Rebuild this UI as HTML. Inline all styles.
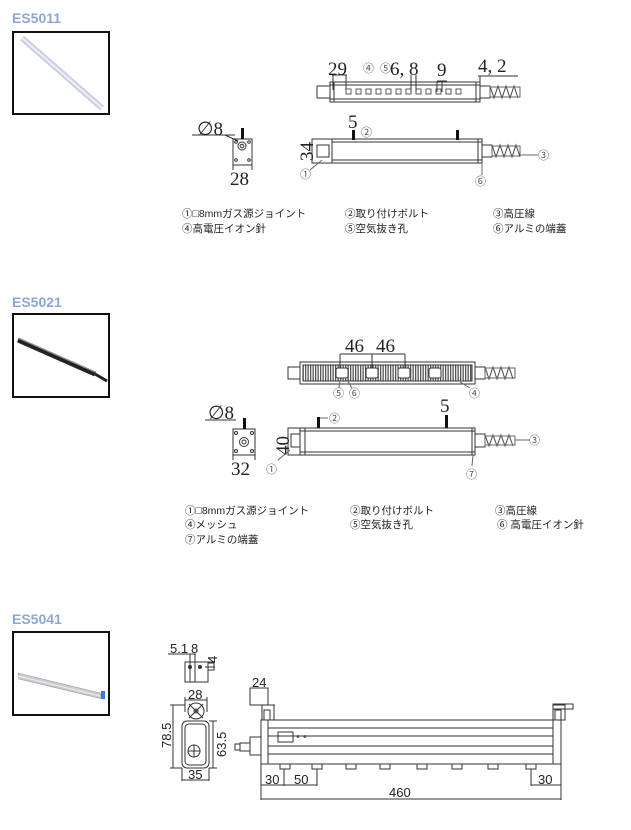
<!DOCTYPE html>
<html><head><meta charset="utf-8"><style>
html,body{margin:0;padding:0;background:#fff;}
svg{display:block;}
.t{font-family:"Liberation Sans","Noto Sans CJK JP",sans-serif;font-weight:bold;fill:#8ea6d6;font-size:14px;}
.lg{font-family:"Liberation Sans","Noto Sans CJK JP",sans-serif;font-size:10.5px;fill:#222;}
.d{font-family:"Liberation Serif",serif;font-size:19px;fill:#222;}
.ds{font-family:"Liberation Sans",sans-serif;font-size:13px;fill:#222;}
.c{font-family:"Liberation Sans","Noto Sans CJK JP",sans-serif;font-size:11px;fill:#555;}
</style></head><body>
<svg width="631" height="830" viewBox="0 0 631 830" xmlns="http://www.w3.org/2000/svg" stroke-linecap="butt">
<!-- ===== Section 1 ===== -->
<text class="t" x="12" y="23">ES5011</text>
<rect x="13" y="32" width="96" height="82" fill="#fff" stroke="#111" stroke-width="2"/>
<line x1="22" y1="38" x2="102" y2="108" stroke="#c9cfe0" stroke-width="6"/>
<line x1="22" y1="38" x2="102" y2="108" stroke="#eef0f7" stroke-width="2"/>

<!-- top view -->
<g stroke="#333" fill="none" stroke-width="1">
<rect x="317" y="86" width="13" height="12"/>
<rect x="330" y="82" width="150" height="20"/>
<line x1="330" y1="85" x2="480" y2="85"/><line x1="330" y1="99" x2="480" y2="99"/>
<line x1="334" y1="82" x2="334" y2="102"/><line x1="476" y1="82" x2="476" y2="102"/>
<rect x="480" y="86" width="10" height="12"/>
<path d="M490 86 l4 12 l4 -12 l4 12 l4 -12 l4 12 l4 -12 l4 12" stroke="#444"/>
<rect x="490" y="87" width="30" height="10" stroke="#666"/>
<line x1="332" y1="75" x2="347" y2="75"/><line x1="346" y1="75" x2="346" y2="90"/><line x1="333" y1="75" x2="333" y2="90"/>
<line x1="411" y1="75" x2="411" y2="92"/><line x1="416" y1="75" x2="416" y2="92"/>
<line x1="437" y1="81" x2="437" y2="92"/><line x1="442" y1="81" x2="442" y2="92"/><line x1="437" y1="81" x2="447" y2="81"/>
<line x1="478" y1="76" x2="518" y2="76"/><line x1="480" y1="76" x2="480" y2="84"/>
</g>
<g fill="none" stroke="#333" stroke-width="0.8">
<rect x="346" y="89" width="5" height="5"/><rect x="356" y="89" width="5" height="5"/><rect x="366" y="89" width="5" height="5"/><rect x="376" y="89" width="5" height="5"/><rect x="386" y="89" width="5" height="5"/><rect x="396" y="89" width="5" height="5"/><rect x="406" y="89" width="5" height="5"/><rect x="416" y="89" width="5" height="5"/><rect x="426" y="89" width="5" height="5"/><rect x="436" y="89" width="5" height="5"/><rect x="446" y="89" width="5" height="5"/><rect x="456" y="89" width="5" height="5"/>
</g>
<text class="d" x="328" y="75">29</text>
<text class="c" x="363" y="72">④</text>
<text class="c" x="380" y="72">⑤</text>
<text class="d" x="390" y="75">6, 8</text>
<text class="d" x="437" y="76">9</text>
<text class="d" x="478" y="72">4, 2</text>

<!-- side view -->
<g stroke="#333" fill="none" stroke-width="1">
<rect x="312" y="139" width="20" height="24"/>
<rect x="317" y="145" width="12" height="12"/>
<rect x="332" y="139" width="150" height="24"/>
<line x1="332" y1="142" x2="482" y2="142"/><line x1="332" y1="160" x2="482" y2="160"/>
<line x1="478" y1="139" x2="478" y2="163"/>
<rect x="482" y="145" width="10" height="12"/>
<path d="M492 145 l4 12 l4 -12 l4 12 l4 -12 l4 12 l4 -12 l4 12" stroke="#444"/>
<rect x="492" y="146" width="28" height="10" stroke="#666"/>
<line x1="520" y1="155" x2="538" y2="155" stroke="#666"/>
<line x1="322" y1="160" x2="310" y2="170" stroke="#666"/>
<line x1="482" y1="163" x2="482" y2="175" stroke="#666"/>
</g>
<rect x="352" y="130" width="3" height="10" fill="#111"/>
<rect x="456" y="130" width="3" height="10" fill="#111"/>
<text class="d" x="348" y="128">5</text>
<text class="c" x="361" y="136">②</text>
<text class="c" x="538" y="159">③</text>
<text class="c" x="300" y="178">①</text>
<text class="c" x="475" y="185">⑥</text>
<text class="d" transform="translate(313,161) rotate(-90)" x="0" y="0">34</text>

<!-- end view -->
<g stroke="#333" fill="none" stroke-width="1">
<line x1="192" y1="135" x2="235" y2="135"/><line x1="225" y1="135" x2="238" y2="141"/>
<rect x="233" y="139" width="19" height="26"/>
<circle cx="242" cy="146" r="4"/><circle cx="242" cy="146" r="1.8"/>
<circle cx="236" cy="142" r="1.3"/><circle cx="249" cy="142" r="1.3"/><circle cx="236" cy="160" r="1.3"/><circle cx="249" cy="160" r="1.3"/>
<line x1="233" y1="165" x2="233" y2="170"/><line x1="252" y1="165" x2="252" y2="170"/>
</g>
<rect x="241" y="128" width="3" height="11" fill="#111"/>
<text class="d" x="197" y="135">∅8</text>
<text class="d" x="230" y="185">28</text>

<text class="lg" x="182" y="217">①□8mmガス源ジョイント</text>
<text class="lg" x="345" y="217">②取り付けボルト</text>
<text class="lg" x="493" y="217">③高圧線</text>
<text class="lg" x="182" y="232">④高電圧イオン針</text>
<text class="lg" x="345" y="232">⑤空気抜き孔</text>
<text class="lg" x="493" y="232">⑥アルミの端蓋</text>

<!-- ===== Section 2 ===== -->
<text class="t" x="12" y="307">ES5021</text>
<rect x="13" y="314" width="96" height="83" fill="#fff" stroke="#111" stroke-width="2"/>
<line x1="18" y1="340" x2="95" y2="374" stroke="#222" stroke-width="5"/>
<line x1="18" y1="338" x2="95" y2="372" stroke="#999" stroke-width="1"/>
<line x1="95" y1="374" x2="107" y2="381" stroke="#222" stroke-width="3"/>

<g stroke="#333" fill="none" stroke-width="1">
<rect x="288" y="367" width="12" height="12"/>
<rect x="300" y="362" width="175" height="22"/>
<rect x="303" y="365" width="169" height="16" fill="url(#mesh)"/>
<rect x="475" y="367" width="10" height="12"/>
<path d="M485 367 l4 12 l4 -12 l4 12 l4 -12 l4 12 l4 -12 l4 12" stroke="#444"/>
<rect x="485" y="368" width="30" height="10" stroke="#666"/>
<line x1="340" y1="354" x2="405" y2="354"/><line x1="340" y1="354" x2="340" y2="372"/><line x1="372" y1="354" x2="372" y2="372"/><line x1="405" y1="354" x2="405" y2="372"/>
<line x1="340" y1="380" x2="339" y2="388" stroke="#666"/><line x1="347" y1="380" x2="352" y2="388" stroke="#666"/><line x1="460" y1="382" x2="470" y2="388" stroke="#666"/>
</g>
<defs><pattern id="mesh" width="2.5" height="4" patternUnits="userSpaceOnUse"><rect width="1.3" height="4" fill="#555"/></pattern></defs>
<g fill="#fff" stroke="#333" stroke-width="1">
<rect x="336" y="368" width="12" height="10" rx="2"/><rect x="366" y="368" width="12" height="10" rx="2"/><rect x="398" y="368" width="12" height="10" rx="2"/><rect x="429" y="368" width="12" height="10" rx="2"/>
</g>
<text class="d" x="345" y="352">46</text>
<text class="d" x="376" y="352">46</text>
<text class="c" x="333" y="397">⑤</text>
<text class="c" x="349" y="397">⑥</text>
<text class="c" x="469" y="397">④</text>

<g stroke="#333" fill="none" stroke-width="1">
<rect x="288" y="428" width="12" height="27"/>
<rect x="291" y="434" width="9" height="13"/>
<rect x="300" y="428" width="175" height="27"/>
<line x1="300" y1="431" x2="475" y2="431"/><line x1="300" y1="452" x2="475" y2="452"/>
<line x1="305" y1="428" x2="305" y2="455"/><line x1="472" y1="428" x2="472" y2="455"/>
<rect x="475" y="434" width="10" height="13"/>
<path d="M485 435 l4 11 l4 -11 l4 11 l4 -11 l4 11 l4 -11 l4 11" stroke="#444"/>
<rect x="485" y="436" width="30" height="9" stroke="#666"/>
<line x1="515" y1="440" x2="530" y2="440" stroke="#666"/>
<line x1="290" y1="450" x2="278" y2="460" stroke="#666"/>
<line x1="473" y1="455" x2="472" y2="466" stroke="#666"/>
<line x1="320" y1="418" x2="328" y2="418" stroke="#666"/>
</g>
<rect x="317" y="417" width="3" height="11" fill="#111"/>
<rect x="445" y="415" width="3" height="13" fill="#111"/>
<text class="d" x="440" y="412">5</text>
<text class="c" x="329" y="422">②</text>
<text class="c" x="529" y="444">③</text>
<text class="c" x="266" y="473">①</text>
<text class="c" x="466" y="478">⑦</text>
<text class="d" transform="translate(289,455) rotate(-90)">40</text>

<g stroke="#333" fill="none" stroke-width="1">
<line x1="205" y1="420" x2="236" y2="420"/>
<rect x="233" y="429" width="22" height="26"/>
<circle cx="244" cy="442" r="4.5"/><circle cx="244" cy="442" r="2"/>
<circle cx="236" cy="433" r="1.5"/><circle cx="252" cy="433" r="1.5"/><circle cx="236" cy="451" r="1.5"/><circle cx="252" cy="451" r="1.5"/>
<line x1="233" y1="455" x2="233" y2="460"/><line x1="255" y1="455" x2="255" y2="460"/>
</g>
<rect x="243" y="418" width="3" height="11" fill="#111"/>
<text class="d" x="208" y="419">∅8</text>
<text class="d" x="231" y="475">32</text>

<text class="lg" x="185" y="514">①□8mmガス源ジョイント</text>
<text class="lg" x="350" y="514">②取り付けボルト</text>
<text class="lg" x="495" y="514">③高圧線</text>
<text class="lg" x="185" y="528">④メッシュ</text>
<text class="lg" x="350" y="528">⑤空気抜き孔</text>
<text class="lg" x="497" y="528">⑥ 高電圧イオン針</text>
<text class="lg" x="185" y="543">⑦アルミの端蓋</text>

<!-- ===== Section 3 ===== -->
<text class="t" x="12" y="624">ES5041</text>
<rect x="13" y="632" width="96" height="83" fill="#fff" stroke="#111" stroke-width="2"/>
<polygon points="18,673 100,693 103,699 19,679" fill="#c9ccd2" stroke="#999" stroke-width="0.6"/>
<line x1="18" y1="676" x2="100" y2="696" stroke="#eee" stroke-width="1"/>
<rect x="101" y="691" width="4" height="8" fill="#3a7bd5"/>

<!-- small top -->
<g stroke="#333" fill="none" stroke-width="1">
<line x1="168" y1="654" x2="196" y2="654"/>
<line x1="190" y1="654" x2="190" y2="682"/><line x1="195" y1="654" x2="195" y2="682"/>
<rect x="185" y="662" width="23" height="20"/>
<line x1="205" y1="662" x2="215" y2="662"/><line x1="205" y1="667" x2="215" y2="667"/>
<rect x="208" y="663" width="6" height="7"/>
</g>
<circle cx="190" cy="667" r="2" fill="#333"/><circle cx="200" cy="667" r="2" fill="#333"/>
<text class="ds" x="170" y="653">5.1</text><text class="ds" x="191" y="653">8</text>
<text class="ds" transform="translate(217,663) rotate(-90)">4</text>

<!-- end view -->
<g stroke="#333" fill="none" stroke-width="1">
<line x1="185" y1="700" x2="207" y2="700"/><line x1="185" y1="697" x2="185" y2="712"/><line x1="207" y1="697" x2="207" y2="712"/>
<circle cx="196" cy="711" r="8"/><circle cx="196" cy="711" r="2"/>
<line x1="189" y1="704" x2="203" y2="718"/><line x1="203" y1="704" x2="189" y2="718"/>
<rect x="182" y="721" width="27" height="47" rx="5"/>
<rect x="185" y="724" width="21" height="41" rx="4"/>
<circle cx="194" cy="751" r="6"/><line x1="188" y1="751" x2="200" y2="751"/><line x1="194" y1="745" x2="194" y2="757"/>
<line x1="173" y1="705" x2="173" y2="768"/><line x1="170" y1="705" x2="185" y2="705"/><line x1="170" y1="768" x2="182" y2="768"/>
<line x1="213" y1="721" x2="213" y2="768"/><line x1="209" y1="721" x2="217" y2="721"/><line x1="209" y1="768" x2="217" y2="768"/>
<line x1="182" y1="768" x2="182" y2="781"/><line x1="209" y1="768" x2="209" y2="781"/><line x1="182" y1="780" x2="209" y2="780"/>
</g>
<text class="ds" x="188" y="699">28</text>
<text class="ds" transform="translate(171,748) rotate(-90)">78.5</text>
<text class="ds" transform="translate(226,757) rotate(-90)">63.5</text>
<text class="ds" x="188" y="779">35</text>

<!-- long bar -->
<g stroke="#333" fill="none" stroke-width="1">
<rect x="250" y="688" width="18" height="17"/>
<line x1="250" y1="705" x2="275" y2="705"/>
<rect x="262" y="705" width="12" height="15"/><rect x="264" y="710" width="6" height="10"/>
<rect x="261" y="720" width="7" height="44"/>
<rect x="268" y="720" width="285" height="44"/>
<line x1="268" y1="728" x2="553" y2="728"/><line x1="268" y1="736" x2="553" y2="736"/>
<line x1="268" y1="746" x2="553" y2="746"/><line x1="268" y1="754" x2="553" y2="754"/>
<rect x="553" y="720" width="8" height="44"/>
<rect x="553" y="705" width="12" height="15"/><rect x="555" y="710" width="6" height="10"/>
<rect x="553" y="704" width="20" height="5"/>
<rect x="278" y="732" width="15" height="10"/>
<rect x="250" y="737" width="11" height="18"/><rect x="240" y="743" width="10" height="8"/><rect x="235" y="744" width="5" height="6"/>
<line x1="261" y1="764" x2="261" y2="800"/><line x1="284" y1="764" x2="284" y2="786"/><line x1="317" y1="764" x2="317" y2="786"/>
<line x1="261" y1="785" x2="317" y2="785"/>
<line x1="561" y1="764" x2="561" y2="800"/><line x1="531" y1="764" x2="531" y2="786"/><line x1="531" y1="785" x2="561" y2="785"/>
<line x1="261" y1="799" x2="561" y2="799"/>
</g>
<g fill="#fff" stroke="#333" stroke-width="1">
<rect x="280" y="764" width="10" height="5"/><rect x="312" y="764" width="10" height="5"/><rect x="346" y="764" width="10" height="5"/><rect x="380" y="764" width="10" height="5"/><rect x="417" y="764" width="10" height="5"/><rect x="452" y="764" width="10" height="5"/><rect x="488" y="764" width="10" height="5"/><rect x="526" y="764" width="10" height="5"/>
</g>
<text class="c" x="296" y="740" font-size="5">• •</text>
<text class="ds" x="252" y="687">24</text>
<text class="ds" x="265" y="784">30</text>
<text class="ds" x="294" y="784">50</text>
<text class="ds" x="538" y="784">30</text>
<text class="ds" x="389" y="797">460</text>
</svg>
</body></html>
